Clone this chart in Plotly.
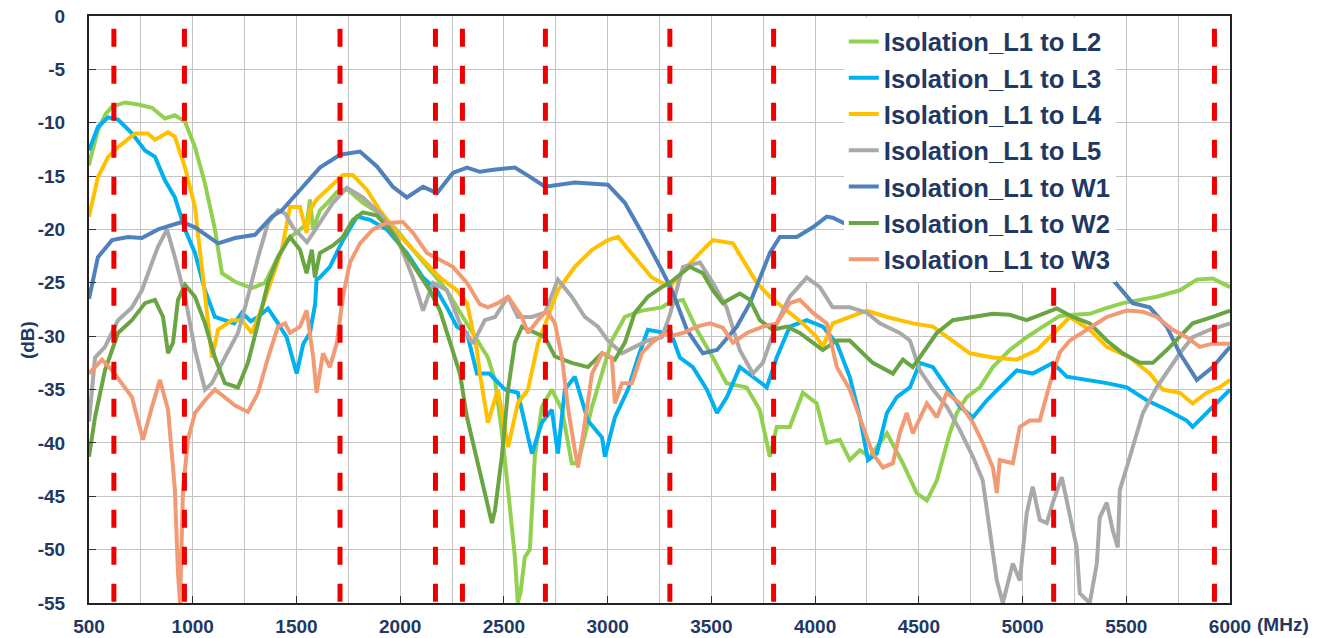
import plotly.graph_objects as go

# ---------------- data ----------------
series_names = ["Isolation_L1 to L2", "Isolation_L1 to L3", "Isolation_L1 to L4",
                "Isolation_L1 to L5", "Isolation_L1 to W1", "Isolation_L1 to W2",
                "Isolation_L1 to W3"]

l2_f = [500, 505, 543, 580, 611, 674, 736, 804, 866, 914, 963, 1011, 1059, 1107, 1141, 1204, 1285, 1348,
        1400, 1453, 1517, 1550, 1565, 1580, 1613, 1650, 1695, 1743, 1820, 1902, 1980, 2061, 2143, 2225,
        2302, 2384, 2423, 2457, 2490, 2520, 2553, 2567, 2580, 2601, 2625, 2649, 2683, 2731, 2780, 2827,
        2857, 2925, 2973, 3020, 3083, 3165, 3261, 3300, 3363, 3430, 3507, 3573, 3670, 3733, 3782, 3815,
        3878, 3941, 4008, 4056, 4119, 4167, 4216, 4264, 4346, 4423, 4490, 4539, 4587, 4649, 4683, 4731,
        4794, 4857, 4938, 5020, 5098, 5180, 5250, 5324, 5400, 5483, 5565, 5647, 5758, 5840, 5917, 6000]
l2_db = [-14, -13.5, -10.7, -9.2, -8.5, -8.1, -8.3, -8.6, -9.6, -9.3, -9.9, -12.3, -15.7, -20, -24.1, -24.9, -25.5, -25,
         -23, -21, -20, -19.5, -17.2, -20, -18.2, -17.5, -16.5, -16.2, -17.5, -18.5, -20, -21.9, -23.8, -25.7,
         -28.2, -30.7, -32, -34.1, -39, -44.4, -50.7, -55, -54, -50.7, -50, -41.3, -36.6, -35, -36.9, -41.9,
         -41.9, -36.6, -33.5, -30.4, -28.2, -27.6, -27.3, -26.8, -26.6, -29.4, -32, -34.4, -34.8, -36.9, -41.3, -38.5,
         -38.5, -35.3, -36.3, -40, -39.7, -41.6, -40.7, -41.3, -39.1, -41.9, -44.7, -45.4, -43.5, -39.1, -37.2, -35.7,
         -34.8, -32.9, -31.3, -30.1, -29.1, -28.1, -28, -27.9, -27.4, -26.9, -26.6, -26.3, -25.7, -24.7, -24.6, -25.4]

l3_f = [500, 543, 592, 640, 707, 770, 818, 866, 914, 963, 1011, 1059, 1107, 1155, 1200, 1237, 1280, 1315,
        1363, 1411, 1453, 1501, 1533, 1565, 1590, 1597, 1613, 1661, 1724, 1792, 1854, 1936, 2032, 2110,
        2177, 2225, 2273, 2322, 2370, 2430, 2505, 2567, 2601, 2635, 2683, 2731, 2760, 2794, 2842, 2905,
        2973, 2987, 3035, 3098, 3146, 3194, 3276, 3300, 3348, 3411, 3478, 3527, 3575, 3637, 3700, 3767,
        3815, 3878, 3960, 4037, 4105, 4167, 4216, 4255, 4298, 4346, 4394, 4457, 4505, 4568, 4635, 4698,
        4761, 4828, 4890, 4972, 5049, 5146, 5213, 5310, 5406, 5502, 5599, 5695, 5791, 5820, 5888, 5950, 6000]
l3_db = [-12.6, -10.4, -9.5, -9.7, -11, -12.6, -13.2, -15.4, -17, -20, -22.2, -25.7, -28.2, -28.5, -28.8, -27.8, -28.6, -28.2,
         -27.4, -28.8, -30.1, -33.5, -30.7, -29.7, -27, -24.7, -24.5, -23.5, -21, -18.8, -19.1, -20, -22.2, -24.5,
         -25.7, -27.3, -29.1, -29.7, -33.5, -33.5, -35, -35.3, -38.1, -41, -38.1, -36.9, -41, -35, -33.8, -37.9,
         -39.5, -41.3, -37.6, -35, -32, -29.4, -29.7, -29.4, -32, -32.9, -35, -37.2, -35.7, -32.9, -33.8, -34.8,
         -32, -29.1, -28.5, -29.1, -30.7, -33.8, -37.6, -41.6, -41, -37.2, -35.7, -34.8, -32.5, -32.9, -34.8, -36.6,
         -37.6, -36, -34.8, -33.2, -33.5, -32.5, -33.8, -34.1, -34.4, -34.8, -36, -36.9, -37.9, -38.5, -37.2, -36, -35]

l4_f = [500, 543, 592, 640, 722, 784, 818, 881, 914, 963, 1011, 1050, 1093, 1122, 1189, 1237, 1285, 1334,
        1382, 1430, 1469, 1517, 1549, 1565, 1597, 1661, 1724, 1772, 1840, 1902, 1965, 2032, 2110, 2192,
        2273, 2322, 2370, 2384, 2423, 2471, 2520, 2567, 2616, 2664, 2712, 2760, 2842, 2925, 3001, 3050,
        3131, 3213, 3300, 3382, 3445, 3507, 3604, 3671, 3719, 3782, 3864, 3941, 4008, 4037, 4085, 4167,
        4249, 4346, 4471, 4568, 4664, 4746, 4857, 4972, 5069, 5165, 5228, 5324, 5406, 5517, 5613, 5676,
        5758, 5820, 5888, 5950, 6000]
l4_db = [-18.8, -15.1, -13.2, -12.3, -11, -11, -11.6, -10.9, -11.3, -14.2, -17.9, -24.5, -32, -29.4, -28.5, -28.5, -29.7, -27.3,
         -24.5, -21.9, -17.9, -17.9, -20.3, -18.2, -17.2, -16, -14.9, -14.9, -16.3, -18.2, -19.8, -21.3, -22.9, -24.5,
         -25.7, -26.9, -31.3, -33.5, -38.1, -35, -40.4, -36.3, -35, -30.7, -28.2, -25.7, -23.5, -21.9, -21, -20.7,
         -22.6, -24.5, -25.4, -23.5, -22.2, -21, -21.3, -23.5, -25, -26.3, -27.6, -28.8, -30.1, -31, -28.8, -28.2,
         -27.6, -28.2, -28.8, -29.1, -30.4, -31.6, -32, -32.2, -31.3, -29.4, -28.2, -29.4, -31, -32, -33.5, -35,
         -35.3, -36.3, -35.3, -34.8, -34.1]

l5_f = [500, 529, 577, 640, 707, 755, 804, 833, 876, 914, 963, 1011, 1059, 1093, 1155, 1218, 1266, 1315,
        1363, 1411, 1445, 1483, 1551, 1613, 1676, 1743, 1820, 1902, 1984, 2061, 2110, 2158, 2225, 2288,
        2351, 2408, 2457, 2520, 2567, 2635, 2698, 2760, 2827, 2890, 2953, 3001, 3069, 3131, 3194, 3261,
        3300, 3363, 3445, 3507, 3573, 3637, 3700, 3748, 3815, 3878, 3960, 4023, 4085, 4167, 4249, 4312,
        4408, 4457, 4505, 4568, 4635, 4698, 4761, 4808, 4842, 4876, 4905, 4953, 4987, 5020, 5049, 5083,
        5117, 5146, 5189, 5228, 5261, 5276, 5324, 5358, 5372, 5406, 5435, 5459, 5469, 5502, 5550, 5580,
        5647, 5710, 5758, 5820, 5902, 6000]
l5_db = [-38, -32, -31, -28.5, -27.3, -25.7, -23.1, -21.6, -20, -22.6, -26.3, -31.3, -35, -34.4, -32, -29.7, -26.3, -22.6,
         -19.4, -18.2, -18.5, -19.8, -21.2, -19.4, -17.5, -16.1, -17, -18.5, -20.7, -24.5, -27.6, -25, -25.7, -28.8,
         -30.7, -28.5, -28.2, -26.3, -28.2, -28.2, -27.8, -24.7, -26.3, -28.2, -29.1, -30.4, -31.6, -31, -30.4, -30.1,
         -28, -23.5, -23.1, -25, -27.3, -31.3, -33.5, -32.5, -28.8, -26.3, -24.5, -25.4, -27.3, -27.3, -27.8, -28.8,
         -29.7, -30.4, -33.2, -35, -36.6, -38.8, -41.3, -43.5, -48.2, -52.9, -55, -51.3, -52.9, -46.6, -44.1, -47.2,
         -47.5, -45.6, -43.2, -46.6, -49.8, -54.1, -55, -51.3, -47, -45.6, -48.2, -49.8, -44.4, -42.3, -39.1, -37.2,
         -34.8, -32.9, -31.6, -30.1, -29.4, -28.8]

w1_f = [500, 543, 611, 688, 755, 833, 948, 1011, 1122, 1204, 1300, 1382, 1430, 1517, 1613, 1710, 1806, 1888,
        1965, 2032, 2110, 2177, 2254, 2322, 2384, 2450, 2553, 2620, 2698, 2842, 3001, 3083, 3165, 3261,
        3310, 3382, 3459, 3527, 3623, 3686, 3734, 3782, 3830, 3912, 3989, 4056, 4085, 4150, 4250, 4350,
        4500, 4700, 4900, 5100, 5300, 5435, 5531, 5613, 5695, 5758, 5840, 5917, 6000]
w1_db = [-26.5, -22.6, -21, -20.7, -20.8, -20, -19.3, -19.8, -21.3, -20.8, -20.5, -18.8, -18.2, -16.3, -14.2, -13, -12.7, -14.1,
         -16, -17, -16, -16.6, -14.7, -14.2, -14.6, -14.4, -14.2, -15, -16, -15.6, -15.8, -17.5, -20.3, -23.8,
         -25.7, -29.4, -31.6, -31.3, -29.1, -26.9, -24.5, -22.2, -20.7, -20.7, -19.8, -18.8, -18.9, -19.5, -22, -24.6,
         -22, -21, -21, -22, -23.5, -24.7, -26.9, -27.3, -29.1, -31.6, -34.1, -32.9, -31]

w2_f = [500, 529, 577, 640, 707, 770, 818, 857, 881, 905, 929, 963, 1011, 1059, 1107, 1155, 1218, 1266,
        1315, 1363, 1411, 1469, 1517, 1549, 1574, 1589, 1613, 1676, 1724, 1772, 1820, 1888, 1950, 2013,
        2081, 2143, 2192, 2240, 2288, 2322, 2351, 2384, 2408, 2442, 2457, 2490, 2520, 2553, 2587, 2649,
        2698, 2746, 2827, 2905, 2973, 3035, 3083, 3131, 3194, 3261, 3300, 3396, 3459, 3507, 3555, 3637,
        3686, 3734, 3796, 3864, 3926, 3989, 4037, 4105, 4167, 4230, 4278, 4375, 4423, 4471, 4519, 4587,
        4664, 4761, 4857, 4938, 5020, 5098, 5165, 5242, 5324, 5406, 5483, 5565, 5628, 5695, 5758, 5820,
        5917, 6000]
w2_db = [-41.3, -37.6, -33.2, -29.7, -28.5, -26.9, -26.6, -28.2, -31.6, -30.6, -26.6, -25.2, -26.3, -28.8, -32, -34.4, -34.8, -32.5,
         -28.8, -25, -22.6, -20.7, -21.9, -24.1, -21.9, -24.5, -22.2, -21.5, -20.7, -19.1, -18.4, -18.7, -20, -21.9,
         -23.8, -25.7, -27.6, -30.6, -33.5, -37.6, -40, -42.8, -44.4, -47.5, -46.3, -41.3, -35, -30.6, -29.1, -29.7,
         -30.1, -31.9, -32.5, -32.9, -31.6, -32.2, -30.6, -27.8, -26.3, -25.4, -25, -23.5, -24.1, -25.7, -26.9, -26,
         -26.6, -28.5, -29.4, -29.1, -29.7, -30.6, -31.3, -30.4, -30.4, -31.6, -32.5, -33.5, -32.2, -32.9, -31.6, -29.7,
         -28.5, -28.2, -27.9, -28, -28.5, -27.9, -27.4, -28.2, -28.8, -30.4, -31.6, -32.5, -32.5, -31.3, -30.1, -28.8,
         -28.2, -27.6]

w3_f = [500, 529, 563, 611, 659, 707, 736, 760, 804, 842, 881, 914, 929, 939, 953, 977, 1011, 1059,
        1107, 1155, 1204, 1266, 1315, 1363, 1411, 1445, 1469, 1517, 1549, 1581, 1597, 1628, 1661, 1695,
        1724, 1758, 1806, 1869, 1936, 2013, 2061, 2129, 2192, 2254, 2322, 2384, 2423, 2471, 2520, 2587,
        2616, 2664, 2707, 2746, 2780, 2808, 2842, 2857, 2890, 2925, 2973, 3020, 3035, 3069, 3117, 3165,
        3213, 3276, 3300, 3363, 3430, 3493, 3555, 3604, 3671, 3748, 3815, 3878, 3926, 3989, 4056, 4105,
        4167, 4216, 4255, 4278, 4327, 4375, 4408, 4442, 4471, 4539, 4587, 4635, 4698, 4761, 4808, 4857,
        4876, 4890, 4953, 4987, 5035, 5083, 5117, 5146, 5180, 5228, 5310, 5406, 5502, 5580, 5647, 5724,
        5791, 5854, 5917, 6000]
w3_db = [-33.5, -32.9, -32.2, -33.2, -34.4, -35.7, -37.9, -39.7, -36.6, -34.1, -36.9, -44.4, -52.2, -55, -44.4, -39.7, -37.2, -36,
         -35, -35.7, -36.5, -37.1, -35.3, -32, -29.1, -28.8, -29.7, -29.1, -27.6, -32, -35.3, -31.6, -32.9, -30.6,
         -26.3, -23.1, -21.3, -20, -19.4, -19.3, -20.3, -22.2, -22.9, -23.5, -25, -27, -27.3, -26.9, -26.3, -28.2,
         -29.7, -28.5, -27.6, -28.8, -32, -36.6, -40.7, -42.3, -38.1, -33.5, -31.6, -32, -36.3, -34.4, -34.4, -31.6,
         -30.6, -29.7, -30, -29.7, -29.1, -28.8, -29.2, -30.6, -29.7, -29.1, -28.8, -26.9, -26.6, -27.8, -28.8, -32.9,
         -35, -37.6, -39.7, -41, -42.3, -41.9, -39.1, -37.2, -39.1, -36.3, -37.6, -35.3, -36.3, -38.1, -40, -42.3,
         -44.7, -41.6, -41.9, -38.5, -37.9, -37.9, -35.5, -33.5, -31.5, -30.4, -29.4, -28.2, -27.6, -27.7, -28.2, -29.4,
         -30.1, -31, -30.7, -30.7]

band_edges_mhz = [620, 960, 1710, 2170, 2300, 2700, 3300, 3800, 5150, 5925]
band_line_db = [-1.2, -55]

x_tickvals = [500, 1000, 1500, 2000, 2500, 3000, 3500, 4000, 4500, 5000, 5500, 6000]
x_ticktext = ["500", "1000", "1500", "2000", "2500", "3000", "3500", "4000", "4500", "5000", "5500", "6000"]
y_tickvals = [0, -5, -10, -15, -20, -25, -30, -35, -40, -45, -50, -55]
y_ticktext = ["0", "-5", "-10", "-15", "-20", "-25", "-30", "-35", "-40", "-45", "-50", "-55"]

# ---------------- styling ----------------
colors = ["#92D050", "#00B0F0", "#FFC000", "#A9A9A9", "#4F81BD", "#6AA544", "#F29A74"]
text_color = "#1F3864"
font_family = "Liberation Sans, Arial, sans-serif"

fig = go.Figure()
all_f = [l2_f, l3_f, l4_f, l5_f, w1_f, w2_f, w3_f]
all_db = [l2_db, l3_db, l4_db, l5_db, w1_db, w2_db, w3_db]
for name, f, db, c in zip(series_names, all_f, all_db, colors):
    fig.add_trace(go.Scatter(x=f, y=db, mode="lines", name=name,
                             line=dict(color=c, width=4)))

for fb in band_edges_mhz:
    fig.add_trace(go.Scatter(x=[fb, fb], y=band_line_db, mode="lines", showlegend=False,
                             hoverinfo="skip",
                             line=dict(color="#EE0000", width=5, dash="18px,19px")))

# the page body adds an 8px margin, so the figure is 8px smaller on each axis
fig.update_layout(
    width=1319, height=630,
    margin=dict(l=81, r=97, t=8, b=35, autoexpand=False),
    paper_bgcolor="white", plot_bgcolor="white",
    font=dict(family=font_family, size=19, color=text_color),
    legend=dict(x=0.6615, y=0.996, xanchor="left", yanchor="top",
                bgcolor="white", borderwidth=0,
                font=dict(family=font_family, size=25.6, color=text_color, weight="bold"),
                tracegroupgap=0),
    showlegend=True,
)
fig.update_xaxes(range=[500, 6000], tickvals=x_tickvals, ticktext=x_ticktext,
                 showgrid=True, gridcolor="#C4C4C4", gridwidth=1,
                 minor=dict(dtick=250, tick0=500, showgrid=True, gridcolor="#C4C4C4", gridwidth=1),
                 showline=True, linecolor="#222222", linewidth=2, mirror=True,
                 ticks="inside", ticklen=7, tickcolor="#333333",
                 tickfont=dict(family=font_family, size=19, color=text_color, weight="bold"),
                 ticklabelstandoff=5, ticklabeloverflow="allow",
                 zeroline=False, automargin=False)
fig.update_yaxes(range=[-55, 0], tickvals=y_tickvals, ticktext=y_ticktext,
                 showgrid=True, gridcolor="#C4C4C4", gridwidth=1,
                 showline=True, linecolor="#222222", linewidth=2, mirror=True,
                 ticks="inside", ticklen=7, tickcolor="#333333",
                 tickfont=dict(family=font_family, size=19, color=text_color, weight="bold"),
                 ticklabelstandoff=18, ticklabeloverflow="allow",
                 zeroline=False, automargin=False)

fig.add_annotation(text="(dB)", xref="paper", yref="paper", x=-0.0543, y=0.448,
                   textangle=-90, showarrow=False, xanchor="center", yanchor="middle",
                   font=dict(family=font_family, size=19, color=text_color, weight="bold"))
fig.add_annotation(text="(MHz)", xref="paper", yref="paper", x=1.0219, y=-0.0358,
                   showarrow=False, xanchor="left", yanchor="middle",
                   font=dict(family=font_family, size=19, color=text_color, weight="bold"))

fig.write_html("out.html")
